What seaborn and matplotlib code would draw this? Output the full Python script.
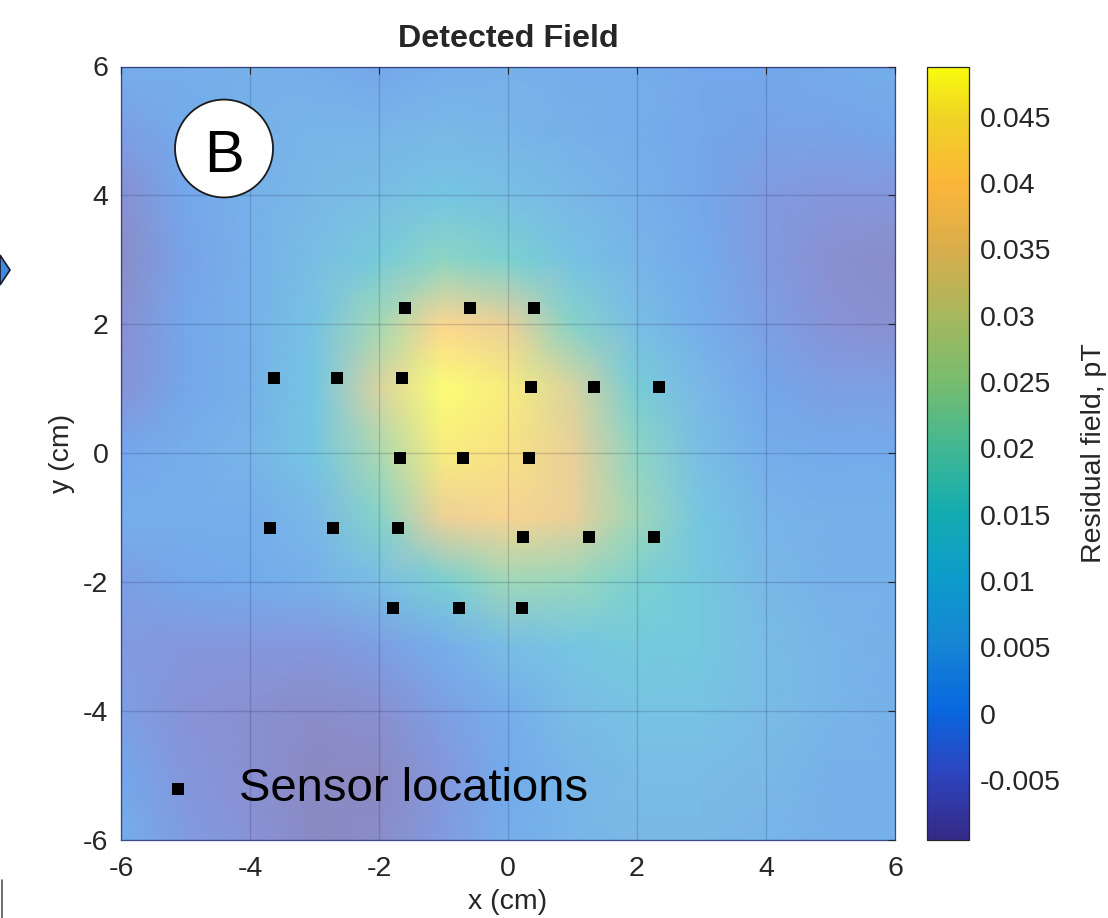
import numpy as np
import matplotlib
matplotlib.use("Agg")
import matplotlib.pyplot as plt
import seaborn as sns
from matplotlib.colors import LinearSegmentedColormap, Normalize, to_rgb
from matplotlib.cm import ScalarMappable
from matplotlib.patches import Circle, Polygon
from matplotlib.lines import Line2D

# ==========================================
# 1. DATA
# ==========================================
grid_x = [-6, -5, -4, -3, -2, -1, 0, 1, 2, 3, 4, 5, 6]
grid_y = [6, 5, 4, 3, 2, 1, 0, -1, -2, -3, -4, -5, -6]

# residual field (pT), one row per grid_y value, columns follow grid_x
field_y6 = [0.002, 0.002, 0.003, 0.002, 0.000, 0.002, 0.003, 0.002, 0.002, 0.000, 0.000, 0.001, 0.002]
field_y5 = [-0.002, 0.001, 0.003, 0.004, 0.004, 0.005, 0.004, 0.003, 0.002, 0.000, -0.001, -0.001, 0.000]
field_y4 = [-0.006, 0.000, 0.003, 0.005, 0.007, 0.010, 0.008, 0.005, 0.003, 0.000, -0.003, -0.004, -0.004]
field_y3 = [-0.007, -0.001, 0.003, 0.007, 0.013, 0.019, 0.016, 0.009, 0.004, 0.001, -0.003, -0.006, -0.007]
field_y2 = [-0.006, 0.000, 0.003, 0.009, 0.023, 0.040, 0.035, 0.018, 0.007, 0.002, -0.002, -0.005, -0.006]
field_y1 = [-0.005, 0.000, 0.003, 0.010, 0.032, 0.049, 0.046, 0.032, 0.014, 0.005, 0.000, -0.002, -0.002]
field_y0 = [0.000, 0.002, 0.004, 0.010, 0.024, 0.046, 0.044, 0.035, 0.019, 0.007, 0.002, 0.001, 0.001]
field_ym1 = [0.002, 0.002, 0.002, 0.005, 0.018, 0.036, 0.039, 0.035, 0.022, 0.010, 0.004, 0.003, 0.003]
field_ym2 = [-0.002, 0.000, 0.001, 0.003, 0.007, 0.015, 0.022, 0.021, 0.016, 0.011, 0.005, 0.003, 0.003]
field_ym3 = [-0.003, -0.004, -0.004, -0.004, -0.002, 0.002, 0.007, 0.010, 0.012, 0.011, 0.006, 0.004, 0.003]
field_ym4 = [-0.002, -0.005, -0.006, -0.007, -0.006, -0.002, 0.002, 0.006, 0.009, 0.009, 0.006, 0.004, 0.003]
field_ym5 = [0.000, -0.004, -0.006, -0.008, -0.008, -0.004, 0.001, 0.004, 0.006, 0.006, 0.005, 0.003, 0.003]
field_ym6 = [0.002, -0.003, -0.005, -0.008, -0.007, -0.003, 0.002, 0.004, 0.005, 0.005, 0.004, 0.003, 0.003]

sensor_x = [-1.60, -0.59, 0.41, -3.63, -2.65, -1.65, 0.36, 1.34, 2.34,
            -1.68, -0.70, 0.32, -3.69, -2.72, -1.71, 0.24, 1.26, 2.27,
            -1.78, -0.76, 0.21]
sensor_y = [2.25, 2.25, 2.25, 1.16, 1.16, 1.16, 1.02, 1.02, 1.02,
            -0.08, -0.08, -0.08, -1.16, -1.16, -1.16, -1.30, -1.30, -1.30,
            -2.40, -2.40, -2.40]

axis_ticks = [-6, -4, -2, 0, 2, 4, 6]
cbar_ticks = [-0.005, 0, 0.005, 0.01, 0.015, 0.02, 0.025, 0.03, 0.035, 0.04, 0.045]
cbar_labels = ["-0.005", "0", "0.005", "0.01", "0.015", "0.02", "0.025",
               "0.03", "0.035", "0.04", "0.045"]
vmin, vmax = -0.0095, 0.0488

field = np.array([field_y6, field_y5, field_y4, field_y3, field_y2, field_y1, field_y0,
                  field_ym1, field_ym2, field_ym3, field_ym4, field_ym5, field_ym6])

# ==========================================
# 2. STYLE
# ==========================================
sns.set_style("white")
plt.rcParams['font.family'] = ['Liberation Sans', 'DejaVu Sans']
text_col = '#262626'

# parula-like colormap, anchored on the colorbar colours
parula_pos = [0.0, 0.085, 0.169, 0.255, 0.34, 0.425, 0.51, 0.595, 0.68, 0.766, 0.85, 0.935, 1.0]
parula_col = ['#352a87', '#2d45bf', '#0868df', '#1786d3', '#0c9ccb', '#14acb0', '#43b891',
              '#78bc6e', '#a8b85c', '#d9ad4c', '#fbb63a', '#f0d225', '#f9fb0e']
parula = LinearSegmentedColormap.from_list("parula", list(zip(parula_pos, parula_col)))

# the surface is see-through (face alpha ~0.57 over white)
face_alpha = 0.57
washed_col = [tuple(face_alpha * c + (1 - face_alpha) for c in to_rgb(h)) for h in parula_col]
parula_washed = LinearSegmentedColormap.from_list("parula_w", list(zip(parula_pos, washed_col)))
norm = Normalize(vmin=vmin, vmax=vmax)

# ==========================================
# 3. FIGURE
# ==========================================
fig = plt.figure(figsize=(11.08, 9.18), dpi=100)
ax = fig.add_axes([121 / 1108, 78.5 / 918, 774 / 1108, 773 / 918])
cax = fig.add_axes([927 / 1108, 78.5 / 918, 42 / 1108, 773 / 918])

X, Y = np.meshgrid(grid_x, grid_y)
ax.pcolormesh(X, Y, field, shading='gouraud', cmap=parula_washed, norm=norm,
              zorder=1, linewidth=0, antialiased=False)

sns.scatterplot(x=sensor_x, y=sensor_y, marker='s', color='black', s=75,
                linewidth=0, label="Sensor locations", ax=ax, zorder=4)

ax.set_xlim(-6, 6)
ax.set_ylim(-6, 6)
ax.set_xticks(axis_ticks)
ax.set_yticks(axis_ticks)
ax.set_xticklabels([str(t) for t in axis_ticks])
ax.set_yticklabels([str(t) for t in axis_ticks])
ax.grid(True, color='#1a1a40', alpha=0.18, linewidth=1.0)
ax.set_axisbelow(False)
ax.tick_params(direction='in', length=5, width=0.8, top=True, right=True,
               labelsize=20.5, colors=text_col)
ax.tick_params(axis='x', pad=12)
ax.tick_params(axis='y', pad=9)
for s in ax.spines.values():
    s.set_color('#3a4a8a')
    s.set_linewidth(0.9)

ax.set_xlabel("x (cm)", fontsize=20.5, color=text_col, labelpad=5)
ax.set_ylabel("y (cm)", fontsize=20.5, color=text_col, labelpad=6)
ax.set_title("Detected Field", fontsize=23.2, fontweight='bold', color=text_col, pad=14)

leg = ax.legend(loc='center left', bbox_to_anchor=(0.0432, 0.0653), frameon=False,
                fontsize=34, handlelength=1.0, handletextpad=0.8,
                borderpad=0, borderaxespad=0, labelcolor='black')

# panel label
ax.add_patch(Circle((0.1331, 0.8939), 0.0633, transform=ax.transAxes,
                    facecolor='white', edgecolor='#1a1a1a', linewidth=1.3, zorder=5))
ax.text(0.1331, 0.8635, "B", transform=ax.transAxes, fontsize=43,
        ha='center', va='baseline', color='black', zorder=6)

# colorbar
cb = fig.colorbar(ScalarMappable(norm=norm, cmap=parula), cax=cax)
cb.set_ticks(cbar_ticks)
cb.set_ticklabels(cbar_labels)
cb.ax.tick_params(direction='in', length=5, width=0.8, labelsize=20.5,
                  colors=text_col, pad=8)
cb.outline.set_edgecolor('#262626')
cb.outline.set_linewidth(0.9)
cb.set_label("Residual field, pT", fontsize=20.5, color=text_col, labelpad=14)

# cropped neighbours on the left edge
fig.add_artist(Polygon([[0, 1 - 255 / 918], [10 / 1108, 1 - 270 / 918], [0, 1 - 285 / 918]],
                       closed=True, transform=fig.transFigure,
                       facecolor='#3d8be0', edgecolor='#1a1a2a', linewidth=1.2))
fig.add_artist(Line2D([2 / 1108, 2 / 1108], [0, 1 - 880 / 918], transform=fig.transFigure,
                      color='#555555', linewidth=1.2))

plt.savefig("out.png", dpi=100)
